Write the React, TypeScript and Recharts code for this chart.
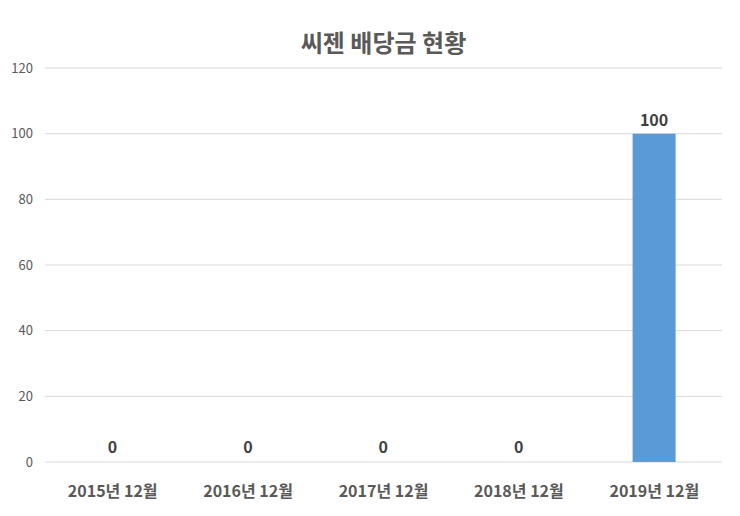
import React from "react";
import { BarChart, Bar, XAxis, YAxis, CartesianGrid, LabelList, Cell } from "recharts";

const categories = ["2015년 12월", "2016년 12월", "2017년 12월", "2018년 12월", "2019년 12월"];
const dividends = [0, 0, 0, 0, 100];
const yTicks = [0, 20, 40, 60, 80, 100, 120];
const title = "씨젠 배당금 현황";

const data = categories.map((c, i) => ({ name: c, value: dividends[i] }));

const FONT = "'Noto Sans CJK KR', 'Noto Sans', sans-serif";

export default function App() {
  return (
    <div style={{ position: "fixed", left: 0, top: 0, width: 740, height: 516, background: "#fff", fontFamily: FONT }}>
      <div
        style={{
          position: "absolute",
          left: 45,
          width: 677,
          top: 26,
          textAlign: "center",
          fontSize: 24,
          fontWeight: 700,
          color: "#595959",
          lineHeight: "32px",
        }}
      >
        {title}
      </div>
      <BarChart width={740} height={516} data={data} margin={{ top: 68, right: 18, bottom: 0, left: 0 }}>
        <CartesianGrid vertical={false} stroke="#d9d9d9" />
        <XAxis
          dataKey="name"
          axisLine={false}
          tickLine={false}
          tickSize={0}
          tickMargin={24}
          height={54}
          tick={{ fill: "#595959", fontSize: 16, fontWeight: 700, fontFamily: FONT }}
          interval={0}
        />
        <YAxis
          domain={[0, 120]}
          ticks={yTicks}
          axisLine={false}
          tickLine={false}
          tickSize={0}
          tickMargin={12}
          width={45}
          tick={{ fill: "#595959", fontSize: 13, fontFamily: FONT }}
        />
        <Bar dataKey="value" fill="#5b9bd5" barSize={43} minPointSize={1} isAnimationActive={false}>
          {data.map((d, i) => (
            <Cell key={i} fill={d.value === 0 ? "transparent" : "#5b9bd5"} />
          ))}
          <LabelList
            dataKey="value"
            position="top"
            offset={8}
            style={{ fill: "#404040", fontSize: 16, fontWeight: 700, fontFamily: FONT }}
          />
        </Bar>
      </BarChart>
    </div>
  );
}
